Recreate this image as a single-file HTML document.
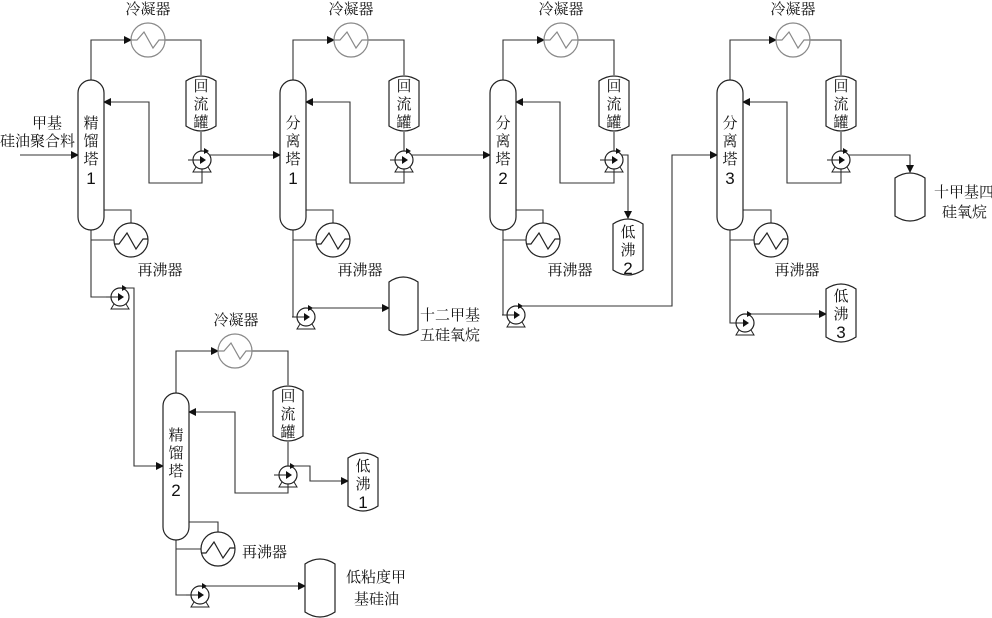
<!DOCTYPE html>
<html><head><meta charset="utf-8"><style>
html,body{margin:0;padding:0;background:#fff;}
svg{display:block;}
text{font-family:"Liberation Serif","Noto Serif CJK SC","Noto Sans CJK SC",serif;font-size:15px;fill:#111;}
.n{font-family:"Liberation Sans",sans-serif;font-size:17px;}
</style></head><body>
<svg width="992" height="618" viewBox="0 0 992 618" xmlns="http://www.w3.org/2000/svg">
<defs>
<marker id="a" markerWidth="8" markerHeight="8" refX="7" refY="4" orient="auto" markerUnits="userSpaceOnUse"><path d="M0,0 L8,4 L0,8 z" fill="#111"/></marker>
<symbol id="pump" viewBox="-15 -12 30 25" width="30" height="25" overflow="visible">
<circle cx="0" cy="0" r="9" fill="#fff" stroke="#222" stroke-width="1.2"/>
<path d="M-2,-4 L4,0 L-2,4 z" fill="#111"/>
<line x1="-14" y1="0" x2="-2" y2="0" stroke="#222"/>
<path d="M-6,7 L-9,12 H9 L6,7" fill="none" stroke="#222"/>
<path d="M2,-12 L7,-9 L2,-6 z" fill="#111"/>
</symbol>
<symbol id="cond" viewBox="-18 -18 36 36" width="36" height="36" overflow="visible">
<circle cx="0" cy="0" r="17" fill="#fff" stroke="#888" stroke-width="1.2"/>
<polyline points="-17,0 -11,0 -4,-8 5,8 11,0 17,0" fill="none" stroke="#888" stroke-width="1.2"/>
</symbol>
<symbol id="reb" viewBox="-18 -18 36 36" width="36" height="36" overflow="visible">
<circle cx="0" cy="0" r="17" fill="#fff" stroke="#222" stroke-width="1.2"/>
<polyline points="-17,4 -12,4 -4,-7 5,9 12,-1 17,-1" fill="none" stroke="#222" stroke-width="1.2"/>
</symbol>
</defs>
<g fill="none" stroke="#333" stroke-width="1.1">
<path d="M91 80 V40 H131" marker-end="url(#a)"/>
<path d="M165 40 H201 V75"/>
<path d="M201 132 V151"/>
<path d="M205 155 H280" marker-end="url(#a)"/>
<path d="M202 169 V183 H149 V102 H104" marker-end="url(#a)"/>
<path d="M20 155 H78" marker-end="url(#a)"/>
<path d="M104 210 H131 V223"/>
<path d="M91 240 H114"/>
<path d="M91 230 V297 H111"/>
<path d="M124 288 H134 V466 H163" marker-end="url(#a)"/>
<path d="M293 80 V40 H334" marker-end="url(#a)"/>
<path d="M368 40 H404 V75"/>
<path d="M404 132 V151"/>
<path d="M407 155 H490" marker-end="url(#a)"/>
<path d="M404 169 V183 H350 V102 H306" marker-end="url(#a)"/>
<path d="M306 210 H333 V223"/>
<path d="M293 240 H316"/>
<path d="M293 230 V317 H297"/>
<path d="M310 308 H389" marker-end="url(#a)"/>
<path d="M503 80 V40 H544" marker-end="url(#a)"/>
<path d="M578 40 H614 V75"/>
<path d="M614 132 V151"/>
<path d="M617 155 H628 V218" marker-end="url(#a)"/>
<path d="M614 169 V183 H560 V102 H516" marker-end="url(#a)"/>
<path d="M516 210 H543 V223"/>
<path d="M503 240 H526"/>
<path d="M503 230 V315 H507"/>
<path d="M520 306 H672 V155 H717" marker-end="url(#a)"/>
<path d="M730 80 V40 H776" marker-end="url(#a)"/>
<path d="M810 40 H841 V75"/>
<path d="M841 132 V151"/>
<path d="M844 155 H910 V172" marker-end="url(#a)"/>
<path d="M841 169 V183 H787 V102 H743" marker-end="url(#a)"/>
<path d="M743 210 H771 V223"/>
<path d="M730 240 H754"/>
<path d="M730 230 V323 H736"/>
<path d="M749 314 H826" marker-end="url(#a)"/>
<path d="M176 393 V351 H218" marker-end="url(#a)"/>
<path d="M252 351 H288 V385"/>
<path d="M288 442 V466"/>
<path d="M291 466 H310 V481 H348" marker-end="url(#a)"/>
<path d="M288 484 V493 H235 V412 H189" marker-end="url(#a)"/>
<path d="M189 522 H218 V532"/>
<path d="M176 549 H201"/>
<path d="M176 540 V595 H191"/>
<path d="M204 586 H305" marker-end="url(#a)"/>
</g>
<g fill="#fff" stroke="#222" stroke-width="1.2">
<rect x="78" y="80" width="26" height="150" rx="13"/>
<rect x="280" y="80" width="26" height="150" rx="13"/>
<rect x="490" y="80" width="26" height="150" rx="13"/>
<rect x="717" y="80" width="26" height="150" rx="13"/>
<rect x="163" y="393" width="26" height="147" rx="13"/>
<path d="M186 81 Q201 71 216 81 V126 Q201 136 186 126 Z"/>
<path d="M389 81 Q404 71 419 81 V126 Q404 136 389 126 Z"/>
<path d="M599 81 Q614 71 629 81 V126 Q614 136 599 126 Z"/>
<path d="M826 81 Q841 71 856 81 V126 Q841 136 826 126 Z"/>
<path d="M273 391 Q288 381 303 391 V436 Q288 446 273 436 Z"/>
<path d="M613 224 Q628 214 643 224 V270 Q628 280 613 270 Z"/>
<path d="M389 282 Q403 272 418 282 V330 Q403 340 389 330 Z"/>
<path d="M895 178 Q910 168 925 178 V216 Q910 226 895 216 Z"/>
<path d="M826 289 Q841 279 856 289 V337 Q841 347 826 337 Z"/>
<path d="M348 458 Q363 448 378 458 V506 Q363 516 348 506 Z"/>
<path d="M305 564 Q320 554 335 564 V612 Q320 622 305 612 Z"/>
</g>
<use href="#cond" x="130" y="22"/><use href="#cond" x="333" y="22"/><use href="#cond" x="543" y="22"/><use href="#cond" x="775" y="22"/><use href="#cond" x="217" y="333"/>
<use href="#reb" x="113" y="222"/><use href="#reb" x="315" y="222"/><use href="#reb" x="525" y="222"/><use href="#reb" x="753" y="222"/><use href="#reb" x="200" y="531"/>
<use href="#pump" x="187" y="148"/><use href="#pump" x="389" y="148"/><use href="#pump" x="599" y="148"/><use href="#pump" x="826" y="148"/><use href="#pump" x="273" y="463"/>
<use href="#pump" x="105" y="285"/><use href="#pump" x="291" y="305"/><use href="#pump" x="501" y="303"/><use href="#pump" x="730" y="311"/><use href="#pump" x="185" y="583"/>
<g text-anchor="middle">
<text x="148" y="14">冷凝器</text><text x="351" y="14">冷凝器</text><text x="561" y="14">冷凝器</text><text x="793" y="14">冷凝器</text><text x="236" y="325">冷凝器</text>
<text x="160" y="275">再沸器</text><text x="360" y="275">再沸器</text><text x="570" y="275">再沸器</text><text x="797" y="275">再沸器</text>
<text x="91" y="128">精</text><text x="91" y="146">馏</text><text x="91" y="164">塔</text><text class="n" x="91" y="184">1</text>
<text x="293" y="128">分</text><text x="293" y="146">离</text><text x="293" y="164">塔</text><text class="n" x="293" y="184">1</text>
<text x="503" y="128">分</text><text x="503" y="146">离</text><text x="503" y="164">塔</text><text class="n" x="503" y="184">2</text>
<text x="730" y="128">分</text><text x="730" y="146">离</text><text x="730" y="164">塔</text><text class="n" x="730" y="184">3</text>
<text x="176" y="440">精</text><text x="176" y="458">馏</text><text x="176" y="476">塔</text><text class="n" x="176" y="496">2</text>
<text x="201" y="91">回</text><text x="201" y="109">流</text><text x="201" y="127">罐</text>
<text x="404" y="91">回</text><text x="404" y="109">流</text><text x="404" y="127">罐</text>
<text x="614" y="91">回</text><text x="614" y="109">流</text><text x="614" y="127">罐</text>
<text x="841" y="91">回</text><text x="841" y="109">流</text><text x="841" y="127">罐</text>
<text x="288" y="401">回</text><text x="288" y="419">流</text><text x="288" y="437">罐</text>
<text x="628" y="237">低</text><text x="628" y="255">沸</text><text class="n" x="628" y="274">2</text>
<text x="841" y="301">低</text><text x="841" y="319">沸</text><text class="n" x="841" y="338">3</text>
<text x="363" y="471">低</text><text x="363" y="489">沸</text><text class="n" x="363" y="508">1</text>
</g>
<text x="32" y="128">甲基</text>
<text x="0" y="146">硅油聚合料</text>
<text x="420" y="320">十二甲基</text><text x="420" y="340">五硅氧烷</text>
<text x="934" y="197">十甲基四</text><text x="942" y="217">硅氧烷</text>
<text x="242" y="557">再沸器</text>
<text x="346" y="582">低粘度甲</text><text x="354" y="604">基硅油</text>
</svg>
</body></html>
